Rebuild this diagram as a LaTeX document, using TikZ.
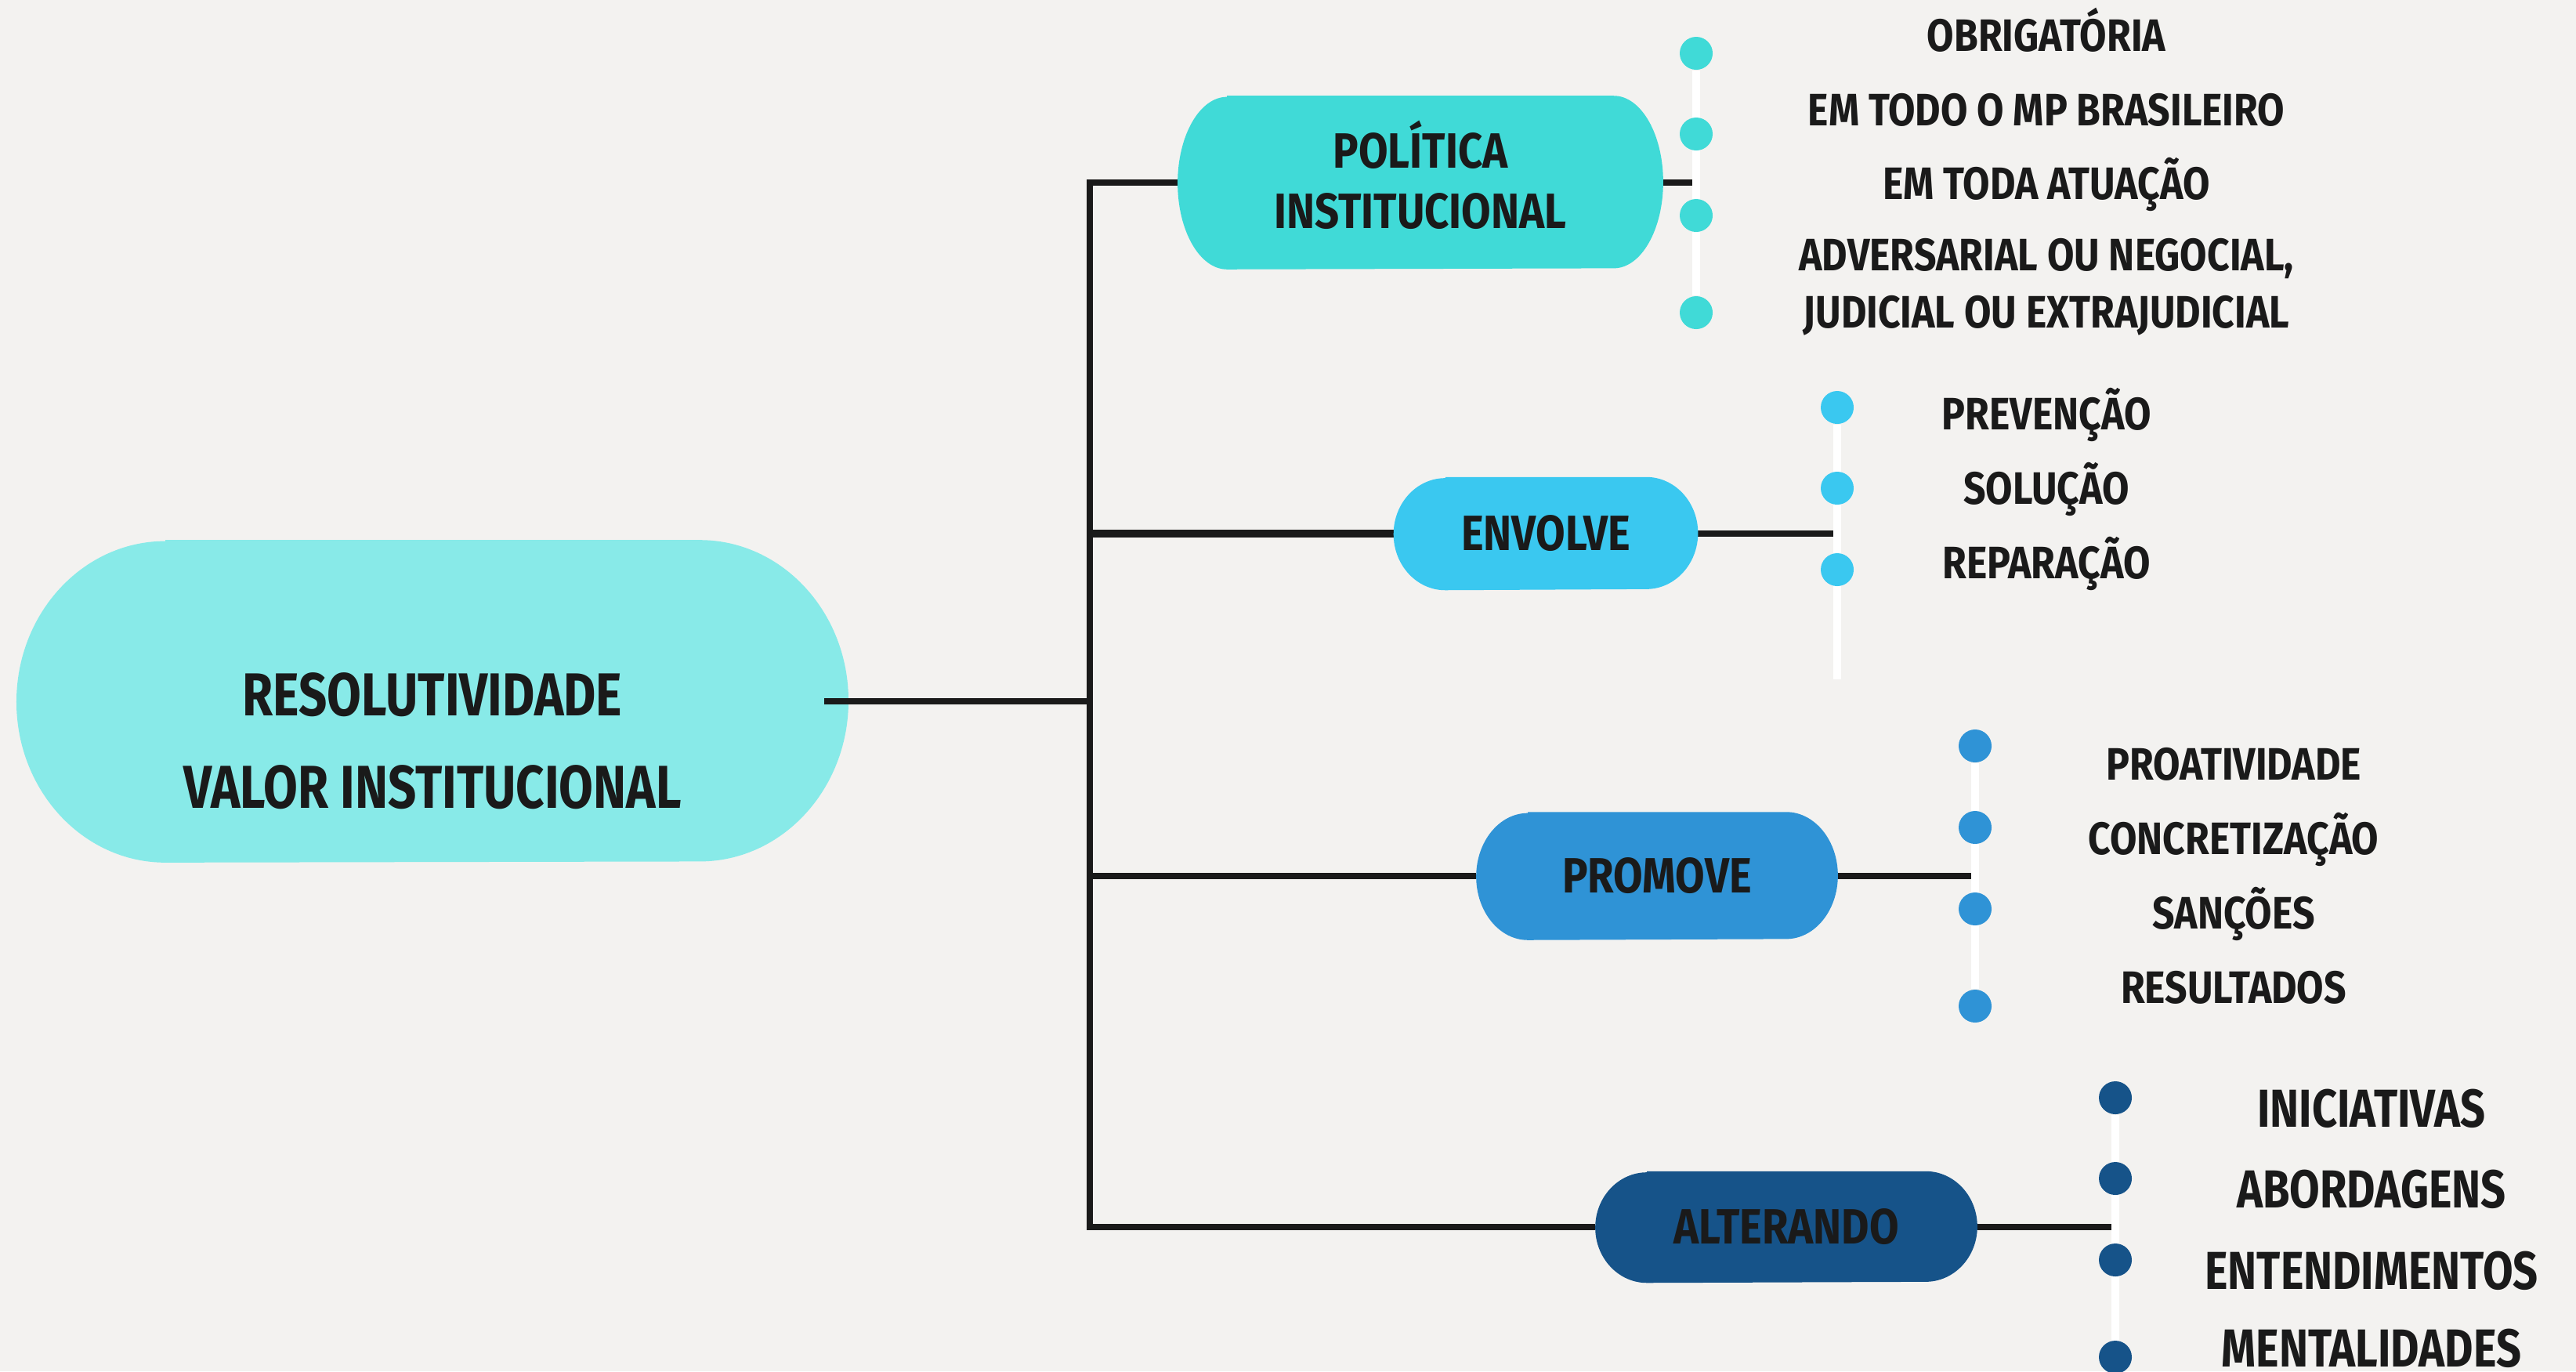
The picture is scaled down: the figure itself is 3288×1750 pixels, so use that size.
\documentclass[tikz,border=0pt]{standalone}
\usepackage{fontspec}
\usepackage{tikz}
\usetikzlibrary{positioning, shapes.misc}
\newfontfamily\mapfont[FakeStretch=0.86]{Fira Sans}
\newfontfamily\hubfont[FakeStretch=0.82]{Fira Sans}
\pgfdeclarelayer{backdrop}
\pgfdeclarelayer{background}
\pgfsetlayers{backdrop,background,main}
\definecolor{paper}{HTML}{F3F2F0}
\definecolor{ink}{HTML}{1A1A1A}
\definecolor{hubfill}{HTML}{88EAE8}
\definecolor{polfill}{HTML}{40DAD7}
\definecolor{envfill}{HTML}{3AC8F0}
\definecolor{profill}{HTML}{2F93D6}
\definecolor{altfill}{HTML}{165389}
% capsule with elliptic ends behind a node: node, colour, x radius, y radius
\newcommand{\Capsule}[4]{%
  \fill[#2] ([xshift=#3]#1.north west) -- ([xshift=-#3]#1.north east)
    arc[start angle=90, end angle=-90, x radius=#3, y radius=#4]
    -- ([xshift=#3]#1.south west)
    arc[start angle=270, end angle=90, x radius=#3, y radius=#4] -- cycle;}
\tikzset{
    pillfont/.style={font=\mapfont\bfseries\fontsize{18pt}{22pt}\selectfont},
    pill/.style={rectangle, inner sep=0pt, text=ink, align=center, pillfont},
    stem/.style={draw=ink, line width=0.08cm},
    rail/.style={draw=white, line width=0.1cm},
    dot/.style={circle, inner sep=0pt, minimum size=0.42cm, draw=none},
    leaf/.style={inner sep=0pt, text=ink, text height=0.4cm, text depth=0pt,
      font=\mapfont\bfseries\fontsize{16.5pt}{20.7pt}\selectfont},
    leafpair/.style={leaf, align=center, text height={}, text depth={}},
    bigleaf/.style={leaf, text height=0.47cm,
      font=\hubfont\bfseries\fontsize{19.4pt}{23pt}\selectfont},
}
\begin{document}
\begin{tikzpicture}[x=0.01cm, y=-0.01cm]
    \begin{pgfonlayer}{backdrop}
      \fill[paper] (0,0) rectangle (3288,1750);
    \end{pgfonlayer}
    \useasboundingbox (0,0) rectangle (3288,1750);

    % centre
    \node[pill, minimum width=10.6cm, minimum height=4.1cm,
      label={[font=\hubfont\bfseries\fontsize{22pt}{33.5pt}\selectfont,
      text=ink, align=center, yshift=-0.51cm]center:{RESOLUTIVIDADE\\VALOR INSTITUCIONAL}}]
      (res) at (552,895) {};

    % branches
    \node[pill, minimum width=6.18cm, minimum height=2.2cm,
      label={[pillfont, text=ink, align=center, yshift=0.1cm]center:{POLÍTICA\\INSTITUCIONAL}}]
      (pol) at (1813,233) {};
    \node[pill, minimum width=3.87cm, minimum height=1.43cm] (env) at (1973,681) {ENVOLVE};
    \node[pill, minimum width=4.6cm, minimum height=1.62cm] (pro) at (2115,1118) {PROMOVE};
    \node[pill, minimum width=4.86cm, minimum height=1.41cm] (alt) at (2280,1566) {ALTERANDO};

    % dots
    \node[dot, fill=polfill] (p1) at (2165,68) {};
    \node[dot, fill=polfill] (p2) at (2165,171) {};
    \node[dot, fill=polfill] (p3) at (2165,275) {};
    \node[dot, fill=polfill] (p4) at (2165,399) {};
    \node[dot, fill=envfill] (e1) at (2345,520) {};
    \node[dot, fill=envfill] (e2) at (2345,623) {};
    \node[dot, fill=envfill] (e3) at (2345,727) {};
    \node[dot, fill=profill] (r1) at (2521,952) {};
    \node[dot, fill=profill] (r2) at (2521,1056) {};
    \node[dot, fill=profill] (r3) at (2521,1160) {};
    \node[dot, fill=profill] (r4) at (2521,1284) {};
    \node[dot, fill=altfill] (a1) at (2700,1401) {};
    \node[dot, fill=altfill] (a2) at (2700,1504) {};
    \node[dot, fill=altfill] (a3) at (2700,1608) {};
    \node[dot, fill=altfill] (a4) at (2700,1732) {};
    \coordinate (envtail) at (2345,867);
    \coordinate (alttail) at (2700,1750);

    % leaves
    \node[leaf] (p1t) at (2612,45) {OBRIGATÓRIA};
    \node[leaf] (p2t) at (2612,140) {EM TODO O MP BRASILEIRO};
    \node[leaf] (p3t) at (2612,234) {EM TODA ATUAÇÃO};
    \node[leafpair] (p4t) at (2612,366) {ADVERSARIAL OU NEGOCIAL,\\JUDICIAL OU EXTRAJUDICIAL};
    \node[leaf] (e1t) at (2612,528) {PREVENÇÃO};
    \node[leaf] (e2t) at (2612,623) {SOLUÇÃO};
    \node[leaf] (e3t) at (2612,718) {REPARAÇÃO};
    \node[leaf] (r1t) at (2851,975) {PROATIVIDADE};
    \node[leaf] (r2t) at (2851,1070) {CONCRETIZAÇÃO};
    \node[leaf] (r3t) at (2851,1165) {SANÇÕES};
    \node[leaf] (r4t) at (2851,1260) {RESULTADOS};
    \node[bigleaf] (a1t) at (3027,1415) {INICIATIVAS};
    \node[bigleaf] (a2t) at (3027,1518) {ABORDAGENS};
    \node[bigleaf] (a3t) at (3027,1622) {ENTENDIMENTOS};
    \node[bigleaf] (a4t) at (3027,1721) {MENTALIDADES};

    \coordinate (fork) at (1391,895);
    \begin{pgfonlayer}{background}
      \draw[stem] (pol.west) -- (fork |- pol.west) -- (fork |- alt.west) -- (alt.west);
      \draw[stem, line width=0.1cm] (fork |- env.west) -- (env.west);
      \draw[stem] (fork |- pro.west) -- (pro.west);
      \draw[stem] (pol.east) -- (pol.east -| p1);
      \draw[stem] (env.east) -- (env.east -| e1);
      \draw[stem] (pro.east) -- (pro.east -| r1);
      \draw[stem] (alt.east) -- (alt.east -| a1);
      \draw[rail] (p1) -- (p4);
      \draw[rail] (e1) -- (envtail);
      \draw[rail] (r1) -- (r4);
      \draw[rail] (a1) -- (alttail);
      \Capsule{res}{hubfill}{1.9cm}{2.05cm}
      \Capsule{pol}{polfill}{0.63cm}{1.1cm}
      \Capsule{env}{envfill}{0.66cm}{0.715cm}
      \Capsule{pro}{profill}{0.66cm}{0.81cm}
      \Capsule{alt}{altfill}{0.66cm}{0.705cm}
    \end{pgfonlayer}
    \draw[stem] ([xshift=-0.31cm]res.east) -- (fork);
\end{tikzpicture}
\end{document}
